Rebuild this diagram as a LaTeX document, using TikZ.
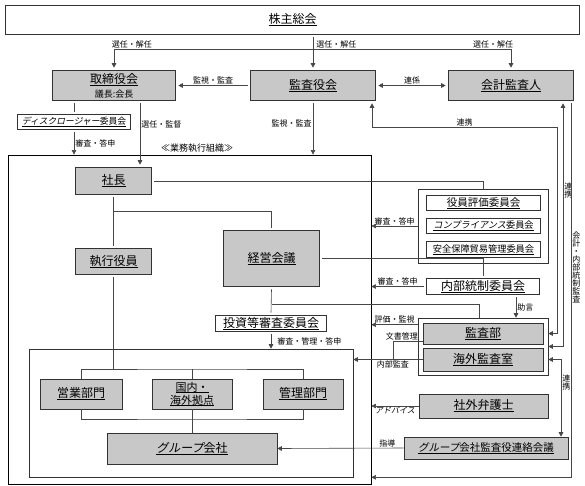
\documentclass[tikz,border=0pt]{standalone}
\usepackage{fontspec}
\setmainfont{Noto Sans CJK JP}
\newfontfamily\kana[FakeSlant=0.2]{Noto Sans CJK JP}
\usepackage{tikz}
\usetikzlibrary{positioning,calc,arrows.meta}
\definecolor{boxgray}{RGB}{200,200,200}
\definecolor{linegray}{RGB}{70,70,70}
\newcommand\ulin[1]{\setbox0=\hbox{#1}\rlap{\copy0}\rule[-0.2em]{\wd0}{0.07em}}
\tikzstyle{base}=[inner sep=0pt, align=center, font=\fontsize{12}{14}\selectfont]
\tikzstyle{dgray}=[base, draw=black!80, line width=0.6pt, fill=boxgray, outer sep=2.8pt, preaction={draw=black!50, line width=5.6pt}, preaction={draw=white, line width=4.4pt}]
\tikzstyle{dwhite}=[dgray, fill=white]
\tikzstyle{sgray}=[base, draw=black!80, line width=0.6pt, fill=boxgray]
\tikzstyle{grp}=[draw=black!80, line width=0.6pt, inner sep=0pt]
\tikzstyle{con}=[draw=linegray, line width=0.6pt]
\tikzstyle{lbl}=[inner sep=1pt, font=\fontsize{8}{8}\selectfont]

\begin{document}
\begin{tikzpicture}[x=1pt, y=-1pt, >={Triangle[length=4.5pt,width=4.5pt]}]
\useasboundingbox (0,0) rectangle (585,486);
% frames
\node[draw, line width=0.8pt, minimum width=363pt, minimum height=329pt, inner sep=0pt] (gyomu) at (189.5,319.5) {};
\node[grp, minimum width=324pt, minimum height=128pt] (honbu) at (191,413) {};
\node[lbl, font=\fontsize{9}{10}\selectfont] (gyomuLbl) at (197,148) {≪業務執行組織≫};

% top
\node[dwhite, minimum width=574pt, minimum height=29pt] (kabunushi) at (292.5,20) {\ulin{株主総会}};
\node[dgray, minimum width=123pt, minimum height=30pt] (torishimari) at (114,85.5) {\ulin{取締役会}\\{\fontsize{9}{10}\selectfont 議長:会長}};
\node[dgray, minimum width=125pt, minimum height=30pt] (kansayaku) at (313,85.5) {\ulin{監査役会}};
\node[dgray, minimum width=125pt, minimum height=30pt] (kaikei) at (511,85.5) {\ulin{会計監査人}};
\node[dwhite, minimum width=113pt, minimum height=15pt, font=\fontsize{8.8}{10}\selectfont] (disclosure) at (74,122) {\ulin{{\kana ディスクロージャー}委員会}};

% left column
\node[dgray, minimum width=76pt, minimum height=27pt] (shacho) at (113.5,181) {\ulin{社長}};
\node[dgray, minimum width=76pt, minimum height=26pt] (shikko) at (113.5,261.5) {\ulin{執行役員}};
\node[dgray, minimum width=96pt, minimum height=56pt] (keiei) at (271.5,258.5) {\ulin{経営会議}};
\node[dwhite, minimum width=111pt, minimum height=16pt] (toshi) at (271,323.5) {\ulin{投資等審査委員会}};

% right column
\node[grp, minimum width=130pt, minimum height=74pt] (hyokaGroup) at (483,226) {};
\node[dwhite, minimum width=114pt, minimum height=15pt, font=\fontsize{10.5}{12}\selectfont] (hyoka) at (483.5,203) {\ulin{役員評価委員会}};
\node[dwhite, minimum width=114pt, minimum height=15pt, font=\fontsize{9.2}{11}\selectfont] (compliance) at (483.5,226) {\ulin{{\kana コンプライアンス}委員会}};
\node[dwhite, minimum width=114pt, minimum height=16pt, font=\fontsize{9.2}{11}\selectfont] (anzen) at (483.5,249.5) {\ulin{安全保障貿易管理委員会}};
\node[dwhite, minimum width=113pt, minimum height=16pt] (naibu) at (483,286.5) {\ulin{内部統制委員会}};
\node[grp, minimum width=130pt, minimum height=57pt] (kansaGroup) at (483,346.5) {};
\node[sgray, minimum width=120pt, minimum height=21pt] (kansabu) at (483,333.5) {\ulin{監査部}};
\node[sgray, minimum width=120pt, minimum height=23pt] (kaigai) at (483,359.5) {\ulin{海外監査室}};
\node[sgray, minimum width=129pt, minimum height=24pt] (bengoshi) at (483.5,406) {\ulin{社外弁護士}};
\node[sgray, minimum width=164pt, minimum height=22pt, font=\fontsize{10.5}{12}\selectfont] (renraku) at (486,448) {\ulin{{\kana グループ}会社監査役連絡会議}};

% bottom
\node[sgray, minimum width=82pt, minimum height=30pt] (eigyo) at (81,394) {\ulin{営業部門}};
\node[sgray, minimum width=80pt, minimum height=30pt, font=\fontsize{11}{13}\selectfont] (kyoten) at (192,394) {\ulin{国内・}\\\ulin{海外拠点}};
\node[sgray, minimum width=80pt, minimum height=30pt] (kanri) at (303,394) {\ulin{管理部門}};
\node[sgray, minimum width=170pt, minimum height=31pt] (group) at (192,448.5) {\ulin{{\kana グループ}会社}};

% junctions
\coordinate (senL) at (114,49);
\coordinate (senR) at (511,49);
\coordinate (rkA) at (557,127);
\coordinate (shBr) at (113.5,211);
\coordinate (kjBr) at (271.5,304);
\coordinate (naibuKansa) at (393,359.5);
\coordinate (buTop) at (192,369);
\coordinate (buBot) at (192,419);

% connectors
\draw[con,->] (kabunushi.south -| kansayaku.north) -- (kansayaku.north);
\draw[con] (senL) -- (senR) node[lbl, pos=0.045, above] {選任・解任} node[lbl, pos=0.56, above] {選任・解任} node[lbl, pos=0.955, above] {選任・解任};
\draw[con,->] (senL) -- (torishimari.north);
\draw[con,->] (senR) -- (kaikei.north);
\draw[con,->] (kansayaku.west) -- (torishimari.east) node[lbl, midway, above] {監視・監査};
\draw[con,<->] (kansayaku.east) -- (kaikei.west) node[lbl, midway, above] {連係};

\draw[con] (disclosure.north |- torishimari.south) -- (disclosure.north);
\draw[con,->] (disclosure.south) -- (disclosure.south |- gyomu.north) node[lbl, midway, right] {審査・答申};
\draw[con,->] ([xshift=26pt]torishimari.south) -- ([xshift=26pt]torishimari.south |- shacho.north) node[lbl, pos=0.34, right] {選任・監督};
\draw[con,->] (kansayaku.south) -- (kansayaku.south |- gyomu.north) node[lbl, pos=0.4, left] {監視・監査};

\draw[con,<->] ([xshift=59pt]kansayaku.south) |- (rkA) node[lbl, pos=0.75, above] {連携} |- (kansabu -| kansaGroup.east);
\draw[con,<->] ([xshift=52pt]kaikei.south) |- (kansaGroup.east) node[lbl, pos=0.18, right, align=center] {連\\携};
\draw[con,->] ([xshift=60pt]kaikei.south) |- (gyomu.east |- honbu.south) node[lbl, pos=0.22, right, align=center] {会\\計\\・\\内\\部\\統\\制\\監\\査};
\draw[con,<->] (kaigai -| kansaGroup.east) -| ([xshift=75pt]renraku.north) node[lbl, pos=0.65, right, align=center] {連\\携};

\draw[con] (shacho.east) -| (hyokaGroup.north);
\draw[con,->] (hyokaGroup.west) -- (hyokaGroup.west -| gyomu.east) node[lbl, midway, above] {審査・答申};
\draw[con] (shacho.south) -- (shikko.north);
\draw[con] (shBr) -| (keiei.north);
\draw[con] (keiei.east) -| (naibu.north);
\draw[con,->] (naibu.west) -- (naibu.west -| gyomu.east) node[lbl, midway, above] {審査・答申};
\draw[con] (keiei.south) -- (toshi.north);
\draw[con] (kjBr) -| ([xshift=-4pt]kansaGroup.north);
\draw[con,->] ([xshift=33pt]naibu.south) -- ([xshift=33pt]naibu.south |- kansaGroup.north) node[lbl, midway, right] {助言};
\draw[con,->] ([yshift=-7pt]kansaGroup.north west) -- ([yshift=-7pt]kansaGroup.north west -| gyomu.east) node[lbl, midway, above] {評価・監視};
\draw[con] ([yshift=3pt]kansabu.south west) -| (naibuKansa) node[lbl, pos=0.25, above, xshift=-6pt] {文書管理};
\draw[con,->] (kaigai.west) -- (kaigai.west -| honbu.east) node[lbl, pos=0.43, below] {内部監査};
\draw[con,->] (toshi.south) -- (toshi.south |- honbu.north) node[lbl, midway, right, xshift=5pt] {審査・管理・答申};

\draw[con] (shikko.south) -- (shikko.south |- buTop);
\draw[con] (eigyo.north) |- (buTop) -| (kanri.north);
\draw[con] (buTop) -- (kyoten.north);
\draw[con] (eigyo.south) |- (buBot) -| (kanri.south);
\draw[con] (kyoten.south) -- (group.north);
\draw[con,->] (bengoshi.west) -- (bengoshi.west -| gyomu.east) node[lbl, midway, below] {\kana アドバイス};
\draw[con,->] (renraku.west) -- (group.east) node[lbl, pos=0.13, above] {指導};
\end{tikzpicture}
\end{document}
